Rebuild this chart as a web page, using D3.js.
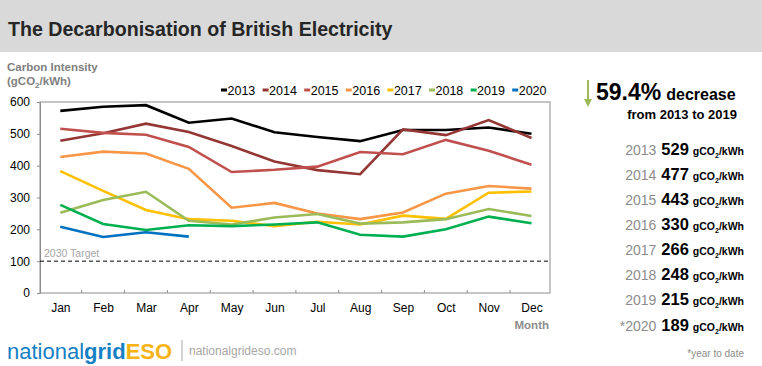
<!DOCTYPE html>
<html><head><meta charset="utf-8">
<script src="https://cdn.jsdelivr.net/npm/d3@7"></script>
<style>
html,body{margin:0;padding:0;background:#fff;}
svg{display:block;font-family:"Liberation Sans",Arial,sans-serif;}
</style></head>
<body>
<svg id="chart" width="762" height="366"></svg>
<script>
const months = ["Jan","Feb","Mar","Apr","May","Jun","Jul","Aug","Sep","Oct","Nov","Dec"];
const years = ["2013","2014","2015","2016","2017","2018","2019","2020"];
const colors = ["#000000","#943634","#c0504d","#f79646","#ffc000","#9bbb59","#00b050","#0070c0"];
const v2013 = [572,585,590,535,548,505,490,477,512,512,520,500];
const v2014 = [478,502,532,506,462,413,386,373,514,496,543,487];
const v2015 = [516,503,497,459,380,387,397,443,436,481,447,403];
const v2016 = [427,444,438,390,268,283,250,232,253,312,336,328];
const v2017 = [383,321,261,232,227,210,224,215,243,233,315,319];
const v2018 = [252,292,318,227,215,237,248,218,222,232,264,242];
const v2019 = [277,217,198,213,210,215,222,183,177,200,240,219];
const v2020 = [208,176,191,177];
const seriesValues = [v2013,v2014,v2015,v2016,v2017,v2018,v2019,v2020];
const yTicks = [0,100,200,300,400,500,600];
const target = 100;
const annualYears = ["2013","2014","2015","2016","2017","2018","2019","*2020"];
const annualValues = [529,477,443,330,266,248,215,189];
const decrease = "59.4%";

const svg = d3.select("#chart");
const font = '"Liberation Sans",Arial,sans-serif';

// header band
svg.append("rect").attr("x",0).attr("y",0).attr("width",762).attr("height",52).attr("fill","#d9d9d9");
svg.append("text").attr("x",8).attr("y",36).attr("font-size",19.6).attr("font-weight","bold")
  .attr("fill","#262626").text("The Decarbonisation of British Electricity");

// axis title
const yt = svg.append("text").attr("x",7).attr("y",71).attr("font-size",11.5).attr("font-weight","bold").attr("fill","#7f7f7f");
yt.append("tspan").text("Carbon Intensity");
const yt2 = svg.append("text").attr("x",7).attr("y",85).attr("font-size",11.5).attr("font-weight","bold").attr("fill","#7f7f7f");
yt2.append("tspan").text("(gCO");
yt2.append("tspan").attr("font-size",8).attr("dy",3).text("2");
yt2.append("tspan").attr("dy",-3).text("/kWh)");

const x = d3.scalePoint().domain(months).range([60.3, 531.5]);
const y = d3.scaleLinear().domain([0,600]).range([293, 102]);
const left = 40, right = 550;

// frame
svg.append("rect").attr("x",left).attr("y",y(600)).attr("width",right-left).attr("height",y(0)-y(600))
  .attr("fill","none").attr("stroke","#8c8c8c").attr("stroke-width",1);

// y axis
const yAxis = d3.axisLeft(y).tickValues(yTicks).tickSize(3).tickPadding(6);
const gy = svg.append("g").attr("transform",`translate(${left},0)`).call(yAxis);
gy.select(".domain").attr("stroke","#8c8c8c");
gy.selectAll(".tick line").attr("stroke","#8c8c8c");
gy.selectAll(".tick text").attr("font-size",12).attr("font-family",font).attr("fill","#000").attr("x",-10);

// x axis labels
const xAxis = d3.axisBottom(x).tickSize(0).tickPadding(10);
const gx = svg.append("g").attr("transform",`translate(0,${y(0)})`).call(xAxis);
gx.select(".domain").remove();
gx.selectAll(".tick text").attr("font-size",12).attr("font-family",font).attr("fill","#000");
// category boundary ticks (inward)
const step = x.step();
svg.append("g").selectAll("line").data(months.slice(1)).join("line")
  .attr("x1",d=>x(d)-step/2).attr("x2",d=>x(d)-step/2)
  .attr("y1",y(0)).attr("y2",y(0)-3).attr("stroke","#8c8c8c");

svg.append("text").attr("x",549).attr("y",329).attr("text-anchor","end").attr("font-size",11.5)
  .attr("font-weight","bold").attr("fill","#8c8c8c").text("Month");

// target line
svg.append("line").attr("x1",left).attr("x2",right).attr("y1",y(target)).attr("y2",y(target))
  .attr("stroke","#000").attr("stroke-width",1).attr("stroke-dasharray","4,3");
svg.append("text").attr("x",44).attr("y",y(target)-4).attr("font-size",10.5).attr("fill","#a6a6a6").text("2030 Target");

// lines
const line = d3.line().x((d,i)=>x(months[i])).y(d=>y(d));
seriesValues.forEach((vals,k)=>{
  svg.append("path").datum(vals).attr("d",line).attr("fill","none")
    .attr("stroke",colors[k]).attr("stroke-width",2.6).attr("stroke-linejoin","miter");
});

// legend
const lg = svg.append("g");
years.forEach((yr,k)=>{
  const lx = 221 + k*41.6;
  lg.append("line").attr("x1",lx).attr("x2",lx+6).attr("y1",90).attr("y2",90)
    .attr("stroke",colors[k]).attr("stroke-width",3);
  lg.append("text").attr("x",lx+6.5).attr("y",94.5).attr("font-size",12.5).attr("fill","#000").text(yr);
});

// right panel
svg.append("line").attr("x1",588).attr("x2",588).attr("y1",80).attr("y2",100)
  .attr("stroke","#9bbb59").attr("stroke-width",2);
svg.append("path").attr("d","M584,99 L592,99 L588,107 Z").attr("fill","#9bbb59");
const hd = svg.append("text").attr("x",596).attr("y",100).attr("font-weight","bold").attr("fill","#000");
hd.append("tspan").attr("font-size",23).text(decrease);
hd.append("tspan").attr("font-size",16).attr("dx",5).text("decrease");
svg.append("text").attr("x",737).attr("y",119).attr("text-anchor","end").attr("font-size",13)
  .attr("font-weight","bold").attr("fill","#000").text("from 2013 to 2019");

const rowY = [155,180,205,230,255,280,305,331];
annualYears.forEach((yr,k)=>{
  const t = svg.append("text").attr("x",744).attr("y",rowY[k]).attr("text-anchor","end");
  t.append("tspan").attr("font-size",14).attr("fill","#8c8c8c").text(yr);
  t.append("tspan").attr("font-size",16.5).attr("font-weight","bold").attr("fill","#000").attr("dx",5).text(annualValues[k]);
  t.append("tspan").attr("font-size",10.5).attr("font-weight","bold").attr("fill","#000").attr("dx",4).text("gCO");
  t.append("tspan").attr("font-size",7).attr("font-weight","bold").attr("fill","#000").attr("dy",2.5).text("2");
  t.append("tspan").attr("font-size",10.5).attr("font-weight","bold").attr("fill","#000").attr("dy",-2.5).text("/kWh");
});
svg.append("text").attr("x",744).attr("y",357).attr("text-anchor","end").attr("font-size",10)
  .attr("fill","#8c8c8c").text("*year to date");

// footer logo
const logo = svg.append("text").attr("x",7).attr("y",359).attr("font-size",22);
logo.append("tspan").attr("fill","#1580c4").attr("font-weight","normal").text("national");
logo.append("tspan").attr("fill","#1580c4").attr("font-weight","bold").text("grid");
logo.append("tspan").attr("fill","#f8b317").attr("font-weight","bold").text("ESO");
svg.append("line").attr("x1",182).attr("x2",182).attr("y1",340).attr("y2",361).attr("stroke","#a6a6a6").attr("stroke-width",1);
svg.append("text").attr("x",189).attr("y",355).attr("font-size",12).attr("fill","#a6a6a6").text("nationalgrideso.com");
</script>
</body></html>
